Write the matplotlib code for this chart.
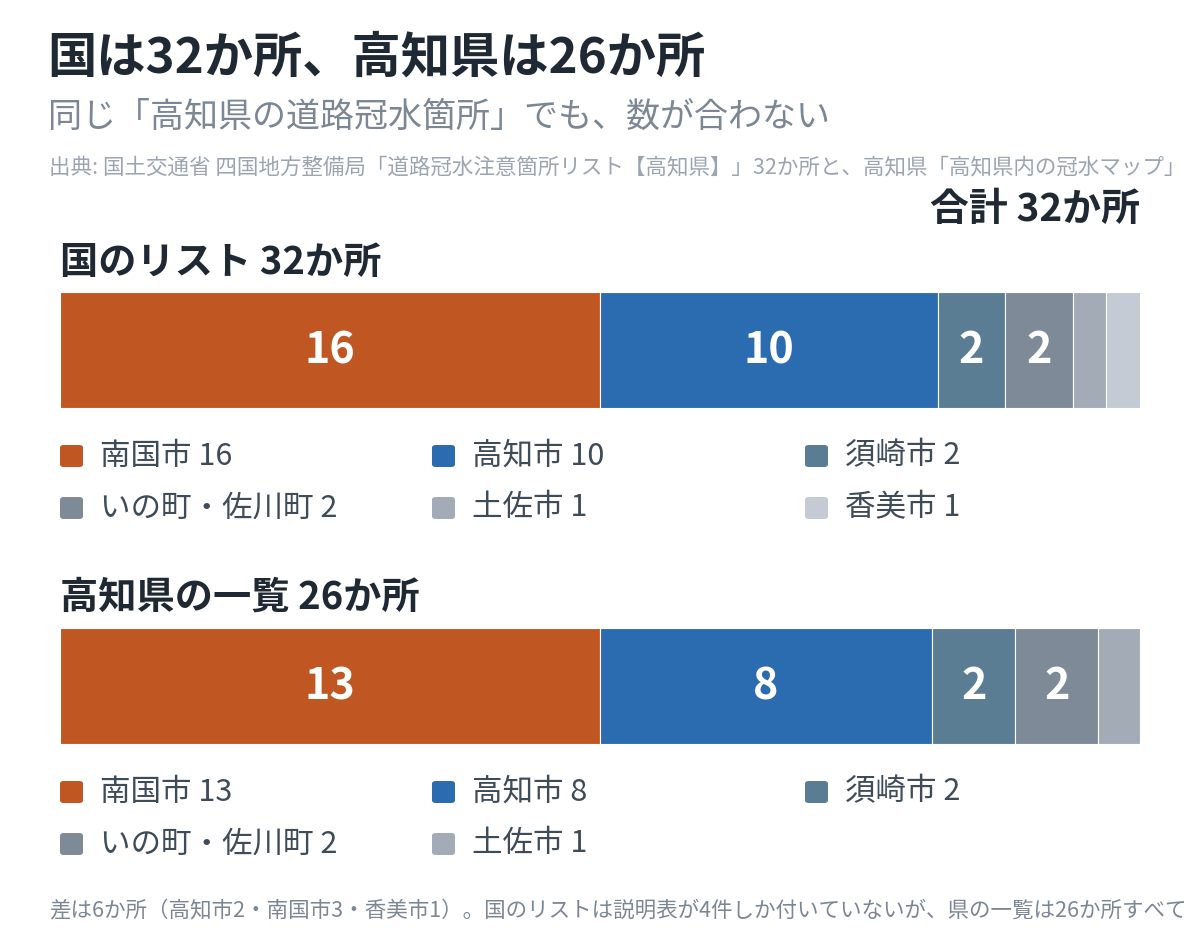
import matplotlib
matplotlib.use("Agg")
import matplotlib.pyplot as plt
from matplotlib.patches import FancyBboxPatch

plt.rcParams['font.family'] = ['Noto Sans CJK JP', 'DejaVu Sans']

# data
national_labels = ['南国市', '高知市', '須崎市', 'いの町・佐川町', '土佐市', '香美市']
national_counts = [16, 10, 2, 2, 1, 1]
pref_labels = ['南国市', '高知市', '須崎市', 'いの町・佐川町', '土佐市']
pref_counts = [13, 8, 2, 2, 1]
colors = {'南国市': '#C05621', '高知市': '#2B6CB0', '須崎市': '#5A7D93',
          'いの町・佐川町': '#7E8A97', '土佐市': '#A3ACB6', '香美市': '#C4CBD4'}

title = '国は32か所、高知県は26か所'
subtitle = '同じ「高知県の道路冠水箇所」でも、数が合わない'
source = '出典: 国土交通省 四国地方整備局「道路冠水注意箇所リスト【高知県】」32か所と、高知県「高知県内の冠水マップ」'
footer = '差は6か所（高知市2・南国市3・香美市1）。国のリストは説明表が4件しか付いていないが、県の一覧は26か所すべて'

W, H = 1200, 952
fig = plt.figure(figsize=(W / 100, H / 100), dpi=100)
fig.patch.set_facecolor('white')

DARK = '#1F2933'


def fx(x):
    return x / W


def fy(y):
    return 1 - y / H


def text(x, y, s, **kw):
    fig.text(fx(x), fy(y), s, va='center', **kw)


text(47, 58, title, fontsize=35.5, fontweight='bold', color=DARK)
text(48, 117, subtitle, fontsize=24.5, color='#7B8794')
text(49, 167, source, fontsize=15.5, color='#9AA5B1')
text(1140, 209, '合計 32か所', fontsize=28, fontweight='bold', color=DARK, ha='right')
text(49, 911, footer, fontsize=15.5, color='#7B8794')


def section(heading, y_head, bar_top, labels, counts, legend_y):
    text(60, y_head, heading, fontsize=27.5, fontweight='bold', color=DARK)
    ax = fig.add_axes([fx(60), fy(bar_top + 116), fx(1080), 116 / H])
    total = sum(counts)
    left = 0
    for lab, c in zip(labels, counts):
        ax.barh(0, c, left=left, height=1, color=colors[lab],
                edgecolor='white', linewidth=0.8)
        if c >= 2:
            ax.text(left + c / 2, 0, str(c), ha='center', va='center',
                    fontsize=31, fontweight='bold', color='white')
        left += c
    ax.set_xlim(0, total)
    ax.set_ylim(-0.5, 0.5)
    ax.axis('off')

    col_x = [60, 432, 805]
    for i, (lab, c) in enumerate(zip(labels, counts)):
        cx = col_x[i % 3]
        cy = legend_y[i // 3]
        sq = FancyBboxPatch((fx(cx), fy(cy + 11)), fx(23), 22 / H,
                            boxstyle='round,pad=0,rounding_size=0.003',
                            transform=fig.transFigure, facecolor=colors[lab],
                            edgecolor='none')
        fig.patches.append(sq)
        text(cx + 40, cy, f'{lab} {c}', fontsize=22, color='#3E4C59')


section('国のリスト 32か所', 262, 292, national_labels, national_counts, [456, 508])
section('高知県の一覧 26か所', 597, 628, pref_labels, pref_counts, [792, 844])

fig.savefig('out.png', dpi=100, facecolor='white')
